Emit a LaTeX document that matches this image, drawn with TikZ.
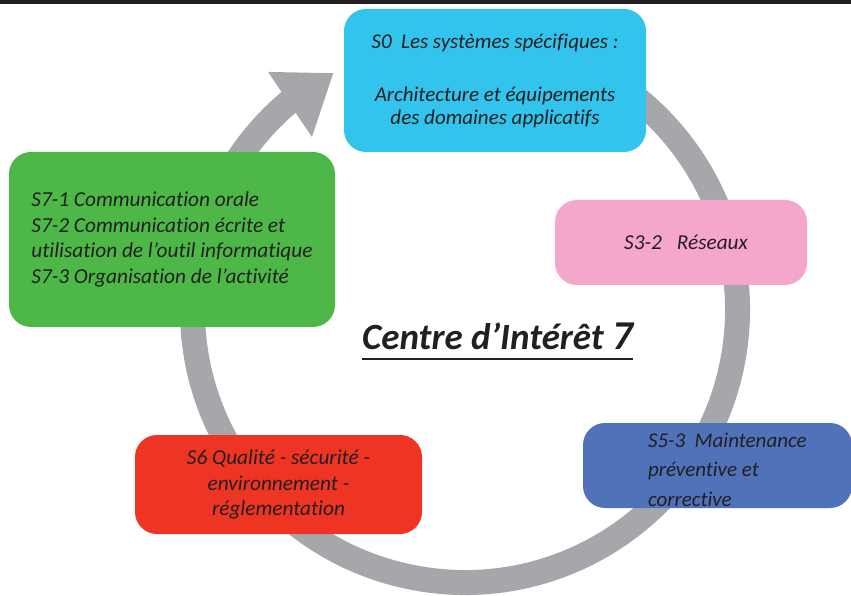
\documentclass[tikz,border=0pt]{standalone}
\usepackage{fontspec}
\setmainfont{Carlito}[RawFeature={-liga}]
\usetikzlibrary{positioning}

\definecolor{inkc}{RGB}{35,31,32}
\definecolor{ringc}{RGB}{166,167,171}
\definecolor{cyanc}{RGB}{51,196,237}
\definecolor{pinkc}{RGB}{244,167,202}
\definecolor{bluec}{RGB}{79,114,184}
\definecolor{redc}{RGB}{238,53,36}
\definecolor{greenc}{RGB}{77,184,72}

\tikzset{
  box/.style={rounded corners=22pt, inner sep=0pt, text=inkc},
  txt/.style={font=\fontsize{21.3}{25.7}\selectfont\itshape, text=inkc},
  smalltxt/.style={font=\fontsize{21}{23}\selectfont\itshape, text=inkc},
  bluetxt/.style={font=\fontsize{21}{29.5}\selectfont\itshape, text=inkc, inner sep=0pt},
  titletxt/.style={font=\fontsize{37}{40}\selectfont\bfseries\itshape, text=inkc, inner sep=0pt},
}

\begin{document}
\begin{tikzpicture}[x=1pt,y=1pt]
\useasboundingbox (0,0) rectangle (851,595);
\draw[line width=4pt,inkc] (0,593) -- (851,593);
% circular arrow
\begin{scope}[shift={(465,285)}]
\draw[line width=25pt,ringc] (80:272.5) arc[start angle=80,end angle=-230,radius=272.5];
\fill[ringc] (129.6:309) -- (119.1:271) -- (131.5:231) -- cycle;
\end{scope}
% boxes
\node[box,smalltxt,fill=cyanc,minimum width=302pt,minimum height=143pt,align=center] (s0) at (495,514.5)
  {S0\ \ Les systèmes spécifiques :\\[30pt]Architecture et équipements\\des domaines applicatifs};
\node[box,txt,fill=pinkc,minimum width=252pt,minimum height=85pt] (s32) at (681,352.5)
  {\hspace{10pt}S3-2\hspace{15pt}Réseaux};
\node[box,fill=bluec,minimum width=269pt,minimum height=85pt] (s53) at (717.5,129.5) {};
\node[bluetxt,align=left,right=65pt of s53.west,anchor=west,yshift=-4pt] (s53t)
  {S5-3\ \ Maintenance\\préventive et\\corrective};
\node[box,txt,fill=redc,minimum width=287pt,minimum height=99pt,align=center] (s6) at (278.5,110.5)
  {S6 Qualité - sécurité -\\environnement -\\réglementation};
\node[box,txt,fill=greenc,minimum width=326pt,minimum height=175pt,align=left] (s7) at (172,355.5)
  {S7-1 Communication orale\\S7-2 Communication écrite et\\utilisation de l’outil informatique\\S7-3 Organisation de l’activité};
% title
\node[titletxt,anchor=base] (ci) at (497.5,245)
  {Centre d’Intérêt {\fontsize{41}{44}\selectfont 7}};
\draw[line width=2.7pt,inkc] ([yshift=-9pt]ci.base west) -- ([yshift=-9pt]ci.base east);
\end{tikzpicture}
\end{document}
